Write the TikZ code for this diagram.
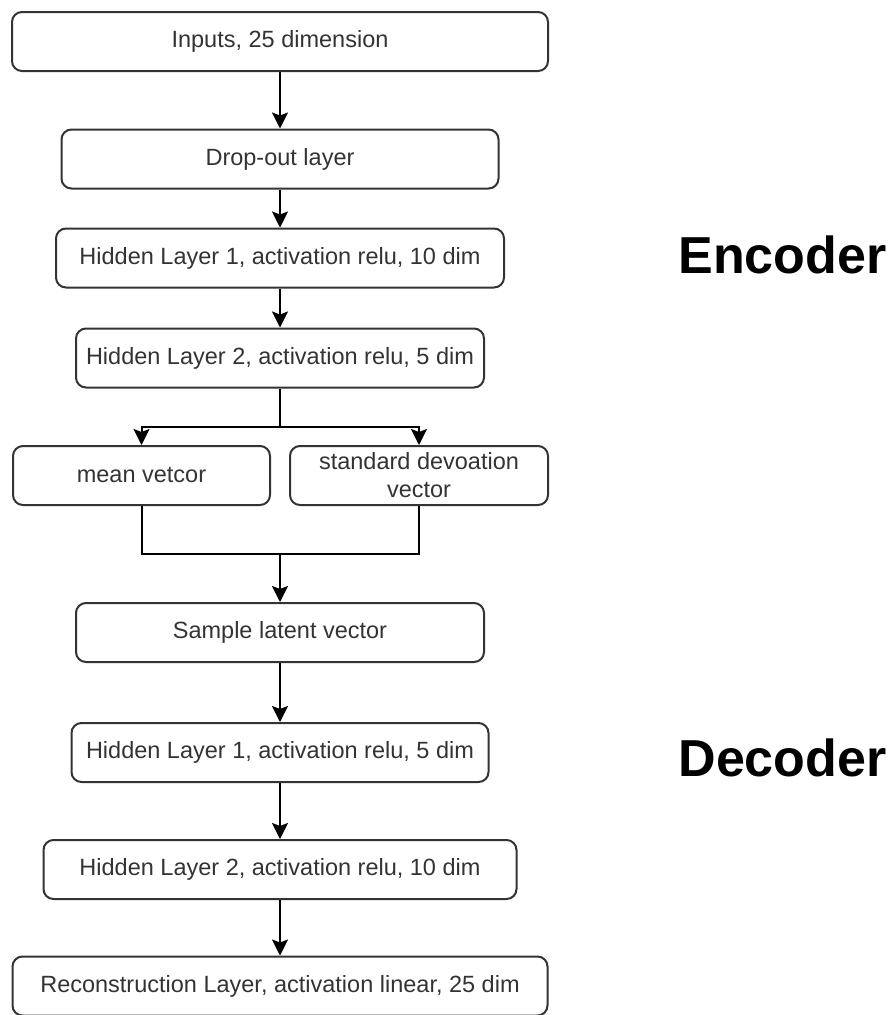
\documentclass[tikz,border=0pt]{standalone}
\usepackage{fontspec}
\setmainfont{Liberation Sans}
\usepackage{tikz}
\usetikzlibrary{calc}
\usetikzlibrary{positioning, arrows.meta}
\tikzstyle{arrow} = [line width=2pt,-{Stealth[length=16pt,width=16pt,inset=3pt]}]
\tikzstyle{layerbox} = [rectangle, rounded corners=10pt, minimum height=59pt, text centered, draw=black!80, line width=2pt, text=black!80, font=\fontsize{23.5}{28}\selectfont, inner sep=0pt]
\tikzstyle{partlabel} = [font=\fontsize{52}{60}\selectfont\bfseries, inner sep=0pt]

\begin{document}
\begin{tikzpicture}[on grid,auto]
		\useasboundingbox (0,0) rectangle (893pt,-1015pt);
		   	\node[layerbox,minimum width=536pt](inp) at (280pt,-41.5pt){Inputs, 25 dimension};
		   	\node[layerbox,minimum width=437pt](drop)[below=117.5pt of inp]{Drop-out layer};
		   	\node[layerbox,minimum width=448pt](enc_1)[below=99pt of drop]{Hidden Layer 1, activation relu, 10 dim};
		   	\node[layerbox,minimum width=408pt](enc_2)[below=100pt of enc_1]{Hidden Layer 2, activation relu, 5 dim};
		   	\node[layerbox,minimum width=257pt](mean)[below left=117.5pt and 138.5pt of enc_2]{mean vetcor};
		   	\node[layerbox,minimum width=258pt,align=center](std)[below right=117.5pt and 139pt of enc_2]{standard devoation\\vector};
		   	\node[layerbox,minimum width=408pt](sample)[below=274.5pt of enc_2]{Sample latent vector};
		   	\node[layerbox,minimum width=417pt](dec_1)[below=120pt of sample]{Hidden Layer 1, activation relu, 5 dim};
		   	\node[layerbox,minimum width=473pt](dec_2)[below=117pt of dec_1]{Hidden Layer 2, activation relu, 10 dim};
		   	\node[layerbox,minimum width=535pt](recon)[below=116.5pt of dec_2]{Reconstruction Layer, activation linear, 25 dim};
		   	\node[partlabel](enc_lbl)[right=502.5pt of enc_1, yshift=3pt]{Encoder};
		   	\node[partlabel](dec_lbl)[right=502.5pt of dec_1, yshift=-5pt]{Decoder};
		   	\coordinate (split) at ($(enc_2.south)+(0,-38pt)$);
		   	\coordinate (join) at ($(sample.north)+(0,48pt)$);
		    \path[arrow]
		    (inp) edge (drop)
		    (drop) edge (enc_1)
		   	(enc_1) edge (enc_2)
		   	(join) edge (sample)
		   	(sample) edge (dec_1)
		   	(dec_1) edge (dec_2)
		   	(dec_2) edge (recon);
		   	\draw[line width=2pt] (enc_2.south) -- (split);
		   	\draw[arrow] (split) -| (mean.north);
		   	\draw[arrow] (split) -| (std.north);
		   	\draw[line width=2pt] (mean.south) |- (join) -| (std.south);
		\end{tikzpicture}
\end{document}
